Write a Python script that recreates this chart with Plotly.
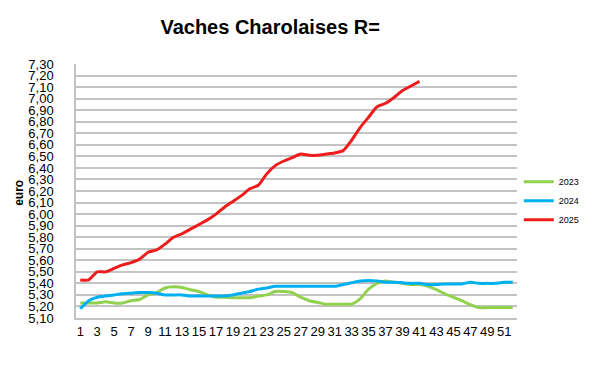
import plotly.graph_objects as go

weeks = list(range(1, 53))

v2023 = [5.23, 5.23, 5.23, 5.24, 5.23, 5.23, 5.25, 5.26, 5.30, 5.32,
         5.36, 5.37, 5.365, 5.345, 5.33, 5.30, 5.28, 5.28, 5.275, 5.275,
         5.275, 5.29, 5.30, 5.33, 5.33, 5.32, 5.28, 5.25, 5.235, 5.22,
         5.22, 5.22, 5.22, 5.265, 5.35, 5.40, 5.42, 5.41, 5.40, 5.39,
         5.39, 5.375, 5.345, 5.31, 5.28, 5.25, 5.215, 5.19, 5.19, 5.19,
         5.19, 5.19]

v2024 = [5.18, 5.25, 5.28, 5.29, 5.30, 5.31, 5.315, 5.32, 5.32, 5.315,
         5.30, 5.30, 5.30, 5.29, 5.29, 5.29, 5.29, 5.29, 5.30, 5.315,
         5.33, 5.35, 5.36, 5.375, 5.375, 5.375, 5.375, 5.375, 5.375, 5.375,
         5.375, 5.39, 5.405, 5.42, 5.425, 5.42, 5.41, 5.41, 5.405, 5.40,
         5.40, 5.39, 5.39, 5.395, 5.395, 5.395, 5.41, 5.40, 5.40, 5.40,
         5.41, 5.41]

v2025 = [5.43, 5.43, 5.50, 5.50, 5.53, 5.56, 5.58, 5.61, 5.67, 5.69,
         5.74, 5.80, 5.83, 5.87, 5.91, 5.95, 6.00, 6.06, 6.11, 6.16,
         6.22, 6.25, 6.35, 6.42, 6.46, 6.49, 6.52, 6.51, 6.51, 6.52,
         6.53, 6.55, 6.64, 6.75, 6.84, 6.93, 6.96, 7.01, 7.07, 7.11,
         7.15]

series = [("2023", v2023, "#92d050"), ("2024", v2024, "#00b0f0"), ("2025", v2025, "#ee1c1c")]

x_tick_labels = [str(w) for w in range(1, 53, 2)]

fig = go.Figure()
for name, vals, col in series:
    fig.add_trace(go.Scatter(
        x=weeks[:len(vals)], y=vals, name=name, mode="lines",
        line=dict(color=col, width=3, shape="spline", smoothing=0.6),
    ))

grid = "#c3c3c3"
fig.update_layout(
    width=600, height=365,
    margin=dict(l=68, r=91, t=56, b=55),
    paper_bgcolor="white", plot_bgcolor="white",
    separators=",.",
    font=dict(family="Liberation Sans, Arial, sans-serif", color="black"),
    title=dict(text="<b>Vaches Charolaises R=</b>", x=0.437, xanchor="center",
               y=1 - 19 / 365, yanchor="middle",
               font=dict(size=20, family="Liberation Sans, Arial, sans-serif", color="black")),
    showlegend=True,
    legend=dict(x=1.004, xanchor="left", y=0.462, yanchor="middle",
                font=dict(size=9), itemwidth=30, tracegroupgap=0,
                bgcolor="rgba(0,0,0,0)"),
    xaxis=dict(range=[0.5, 52.5], tickmode="array",
               tickvals=list(range(1, 53, 2)), ticktext=x_tick_labels,
               showgrid=False, zeroline=False, showline=True, linecolor=grid, linewidth=1.5,
               ticks="outside", ticklen=1, tickcolor="rgba(0,0,0,0)",
               tickfont=dict(size=13, color="black")),
    yaxis=dict(range=[5.1, 7.3005], tick0=5.1, dtick=0.1, tickformat=".2f",
               showgrid=True, gridcolor=grid, gridwidth=1.5,
               zeroline=False, showline=True, linecolor=grid, linewidth=1.5,
               ticks="outside", ticklen=18, tickcolor="rgba(0,0,0,0)",
               tickfont=dict(size=13, color="black")),
    annotations=[dict(text="<b>euro</b>", xref="paper", yref="paper",
                      x=(11 - 68) / 441, y=(310.3 - 185) / 254.3, textangle=-90,
                      showarrow=False, font=dict(size=12, color="black"),
                      xanchor="center", yanchor="middle")],
)

fig.write_html("out.html")
